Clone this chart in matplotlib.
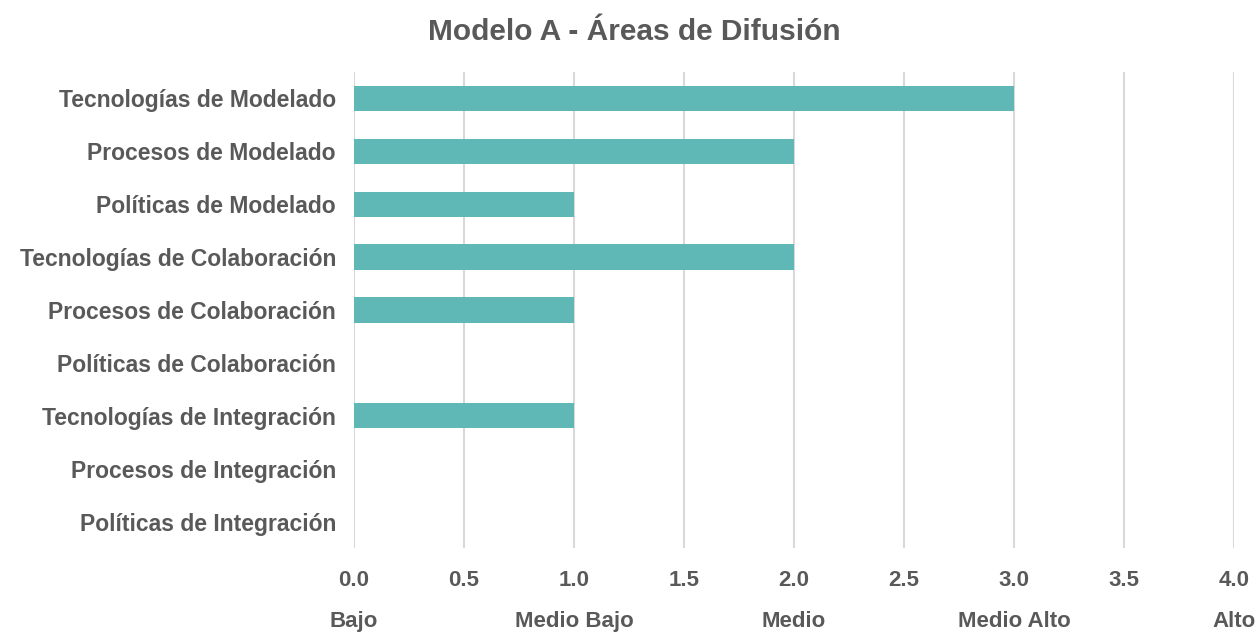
import matplotlib.pyplot as plt

categorias = ['Tecnologías de Modelado', 'Procesos de Modelado', 'Políticas de Modelado',
              'Tecnologías de Colaboración', 'Procesos de Colaboración', 'Políticas de Colaboración',
              'Tecnologías de Integración', 'Procesos de Integración', 'Políticas de Integración']
valores = [3, 2, 1, 2, 1, 0, 1, 0, 0]
ticks = [0.0, 0.5, 1.0, 1.5, 2.0, 2.5, 3.0, 3.5, 4.0]
niveles = ['Bajo', 'Medio Bajo', 'Medio', 'Medio Alto', 'Alto']
pos_niveles = [0, 1, 2, 3, 4]

gris = '#595959'
plt.rcParams['font.family'] = ['Liberation Sans', 'DejaVu Sans']

fig = plt.figure(figsize=(12.57, 6.34), dpi=100)
ax = fig.add_axes([354/1257, 1-548/634, 880/1257, 476/634])

y = list(range(len(categorias)))
ax.barh(y, valores, height=0.48, color='#5FB8B5', zorder=3)
ax.set_ylim(len(categorias)-0.5, -0.5)
ax.set_xlim(0, 4)
ax.set_yticks(y)
ax.set_yticklabels(categorias, fontsize=16.5, fontweight='bold', color=gris)
ax.set_xticks(ticks)
ax.set_xticklabels(['%.1f' % t for t in ticks], fontsize=16, fontweight='bold', color=gris)
ax.tick_params(length=0)
ax.tick_params(axis='y', pad=13)
ax.tick_params(axis='x', pad=16)
ax.grid(axis='x', color='#D9D9D9', linewidth=1.5, zorder=0)
for s in ax.spines.values():
    s.set_visible(False)

for p, n in zip(pos_niveles, niveles):
    ax.text(p, -0.155, n, transform=ax.get_xaxis_transform(), ha='center', va='center',
            fontsize=16, fontweight='bold', color=gris, clip_on=False)

fig.text(634/1257, 1-32/634, 'Modelo A - Áreas de Difusión', ha='center', va='center',
         fontsize=21.5, fontweight='bold', color=gris)

fig.savefig('out.png', dpi=100)
